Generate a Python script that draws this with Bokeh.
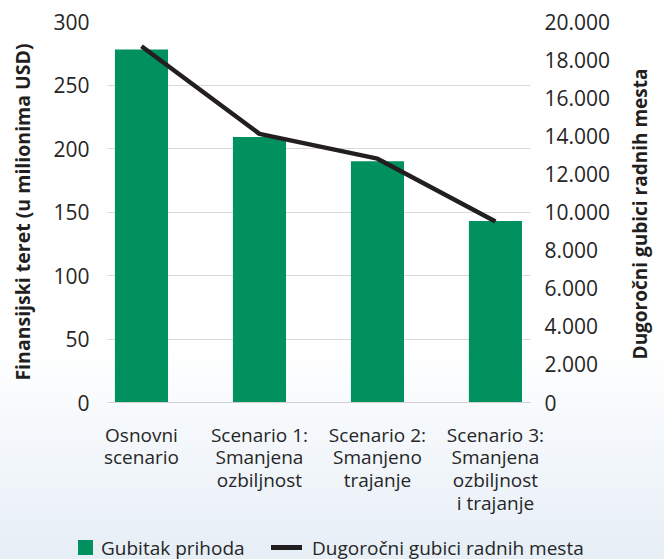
from bokeh.plotting import figure
from bokeh.layouts import column, row
from bokeh.models import Range1d, LinearAxis, FixedTicker, Div
from bokeh.embed import file_html
from bokeh.resources import INLINE

# ---- data ----
categories = [
    "Osnovni\nscenario",
    "Scenario 1:\nSmanjena\nozbiljnost",
    "Scenario 2:\nSmanjeno\ntrajanje",
    "Scenario 3:\nSmanjena\nozbiljnost\ni trajanje",
]
revenue_loss = [278, 209, 190, 143]          # Gubitak prihoda (mil. USD)
job_losses = [18700, 14100, 12800, 9500]     # Dugoročni gubici radnih mesta
left_ticks = [0, 50, 100, 150, 200, 250, 300]
right_ticks = [0, 2000, 4000, 6000, 8000, 10000, 12000, 14000, 16000, 18000, 20000]
left_title = "Finansijski teret (u milionima USD)"
right_title = "Dugoročni gubici radnih mesta"
legend_labels = ["Gubitak prihoda", "Dugoročni gubici radnih mesta"]

xs = list(range(len(categories)))

GREEN = "#00915f"
DARK = "#231f20"
TXT = "#262626"
FONT = "Open Sans"

p = figure(
    width=620, height=519,
    output_backend="svg", toolbar_location=None,
    x_range=Range1d(-0.288, 3.297), y_range=Range1d(0, 300),
    min_border_left=107, min_border_right=90,
    min_border_top=21, min_border_bottom=116,
)
p.extra_y_ranges = {"jobs": Range1d(0, 20000)}
p.outline_line_color = None
p.background_fill_color = None
p.border_fill_color = None

bars = p.vbar(x=xs, top=revenue_loss, width=0.45, fill_color=GREEN, line_color=None)
line = p.line(x=xs, y=job_losses, y_range_name="jobs", line_color=DARK, line_width=4.5)

# x axis
xa = p.xaxis[0]
xa.ticker = FixedTicker(ticks=xs)
xa.major_label_overrides = {i: c for i, c in zip(xs, categories)}
xa.axis_line_color = "#d0d0d0"
xa.major_tick_line_color = None
xa.minor_tick_line_color = None
xa.major_label_standoff = 13
xa.major_label_text_font = FONT
xa.major_label_text_font_size = "19px"
xa.major_label_text_color = TXT
xa.major_label_text_line_height = 0.88
p.xgrid.visible = False

# left axis
ya = p.yaxis[0]
ya.ticker = FixedTicker(ticks=left_ticks)
ya.axis_line_color = None
ya.major_tick_line_color = None
ya.minor_tick_line_color = None
ya.major_label_standoff = 12
ya.major_label_text_font = FONT
ya.major_label_text_font_size = "21px"
ya.major_label_text_color = TXT
ya.axis_label = left_title
ya.axis_label_text_font = FONT
ya.axis_label_text_font_style = "bold"
ya.axis_label_text_font_size = "19.5px"
ya.axis_label_text_color = DARK
ya.axis_label_standoff = 14
p.ygrid.ticker = FixedTicker(ticks=left_ticks)
p.ygrid.grid_line_color = "#d9d9d9"

# right axis
ra = LinearAxis(
    y_range_name="jobs",
    ticker=FixedTicker(ticks=right_ticks),
    major_label_overrides={t: f"{t:,}".replace(",", ".") for t in right_ticks},
)
ra.axis_line_color = None
ra.major_tick_line_color = None
ra.minor_tick_line_color = None
ra.major_label_standoff = 8
ra.major_label_text_font = FONT
ra.major_label_text_font_size = "21px"
ra.major_label_text_color = TXT
p.add_layout(ra, "right")

# ---- right axis title (HTML, rotated to read bottom-to-top) ----
title_html = f"""
<div style="position:relative;width:44px;height:519px;">
  <span style="position:absolute;left:10px;top:214px;transform:translateY(-50%) rotate(180deg);
               writing-mode:vertical-rl;line-height:20px;white-space:nowrap;
               font-family:'Open Sans';font-weight:bold;font-size:19px;color:{DARK};">{right_title}</span>
</div>
"""
title_div = Div(text=title_html, width=44, height=519, margin=(0, 0, 0, 0))

# ---- legend strip (HTML, under the chart) ----
legend_html = f"""
<div style="position:relative;width:664px;height:40px;font-family:'Open Sans';font-size:19px;color:{TXT};white-space:nowrap;">
  <span style="position:absolute;left:78px;top:21px;width:15px;height:15px;background:{GREEN};"></span>
  <span style="position:absolute;left:101px;top:16px;line-height:26px;">{legend_labels[0]}</span>
  <span style="position:absolute;left:271px;top:26px;width:31px;height:5px;background:{DARK};"></span>
  <span style="position:absolute;left:312px;top:16px;line-height:26px;">{legend_labels[1]}</span>
</div>
"""
legend_div = Div(text=legend_html, width=664, height=40, margin=(0, 0, 0, 0))

layout = column(row(p, title_div, spacing=0), legend_div, spacing=0,
                styles={"background": "linear-gradient(to bottom, #ffffff 0%, #ffffff 62%, #e6eef6 100%)"})

open("out.html", "w").write(file_html(layout, INLINE))
